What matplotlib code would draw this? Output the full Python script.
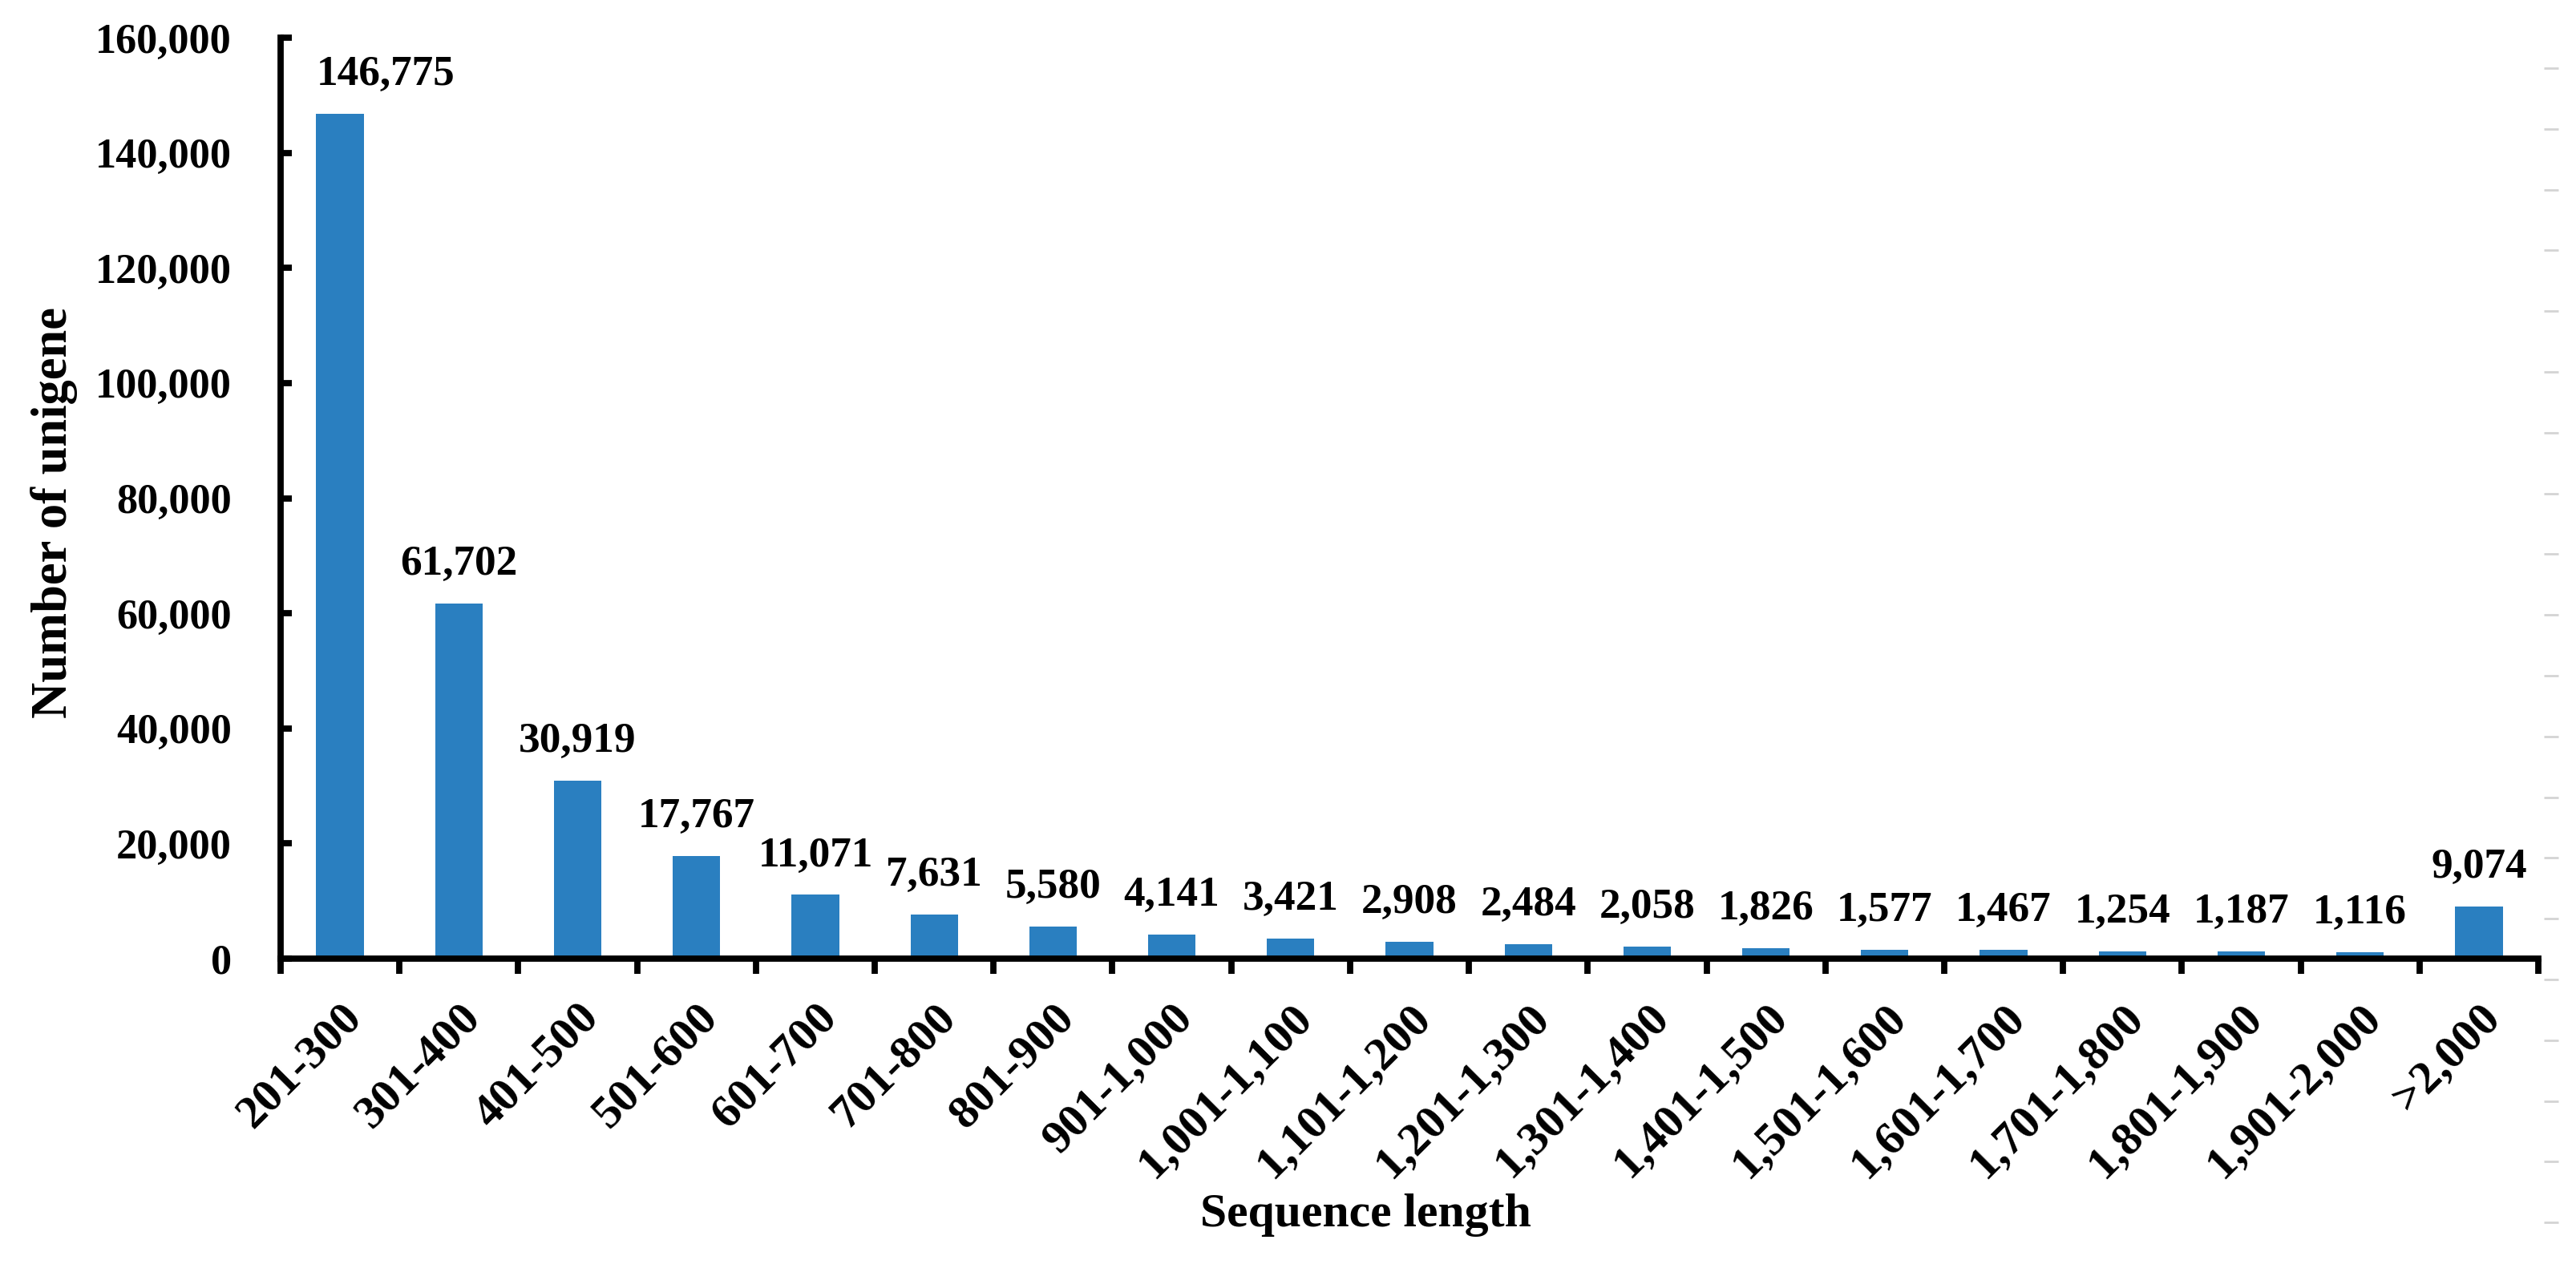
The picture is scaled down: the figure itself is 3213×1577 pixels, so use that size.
import matplotlib
matplotlib.use("Agg")
import matplotlib.pyplot as plt
import numpy as np
from matplotlib.ticker import FuncFormatter, FixedLocator

# data
categories = ["201-300", "301-400", "401-500", "501-600", "601-700", "701-800",
              "801-900", "901-1,000", "1,001-1,100", "1,101-1,200", "1,201-1,300",
              "1,301-1,400", "1,401-1,500", "1,501-1,600", "1,601-1,700",
              "1,701-1,800", "1,801-1,900", "1,901-2,000", ">2,000"]
counts = [146775, 61702, 30919, 17767, 11071, 7631, 5580, 4141, 3421, 2908,
          2484, 2058, 1826, 1577, 1467, 1254, 1187, 1116, 9074]
y_ticks = [0, 20000, 40000, 60000, 80000, 100000, 120000, 140000, 160000]

plt.rcParams['font.family'] = ['Liberation Serif', 'DejaVu Serif']
plt.rcParams['font.weight'] = 'bold'

W, H, dpi = 3213, 1577, 200
fig = plt.figure(figsize=(W / dpi, H / dpi), dpi=dpi)
ax = fig.add_axes([350 / W, 1 - 1196 / H, (3166 - 350) / W, (1196 - 47) / H])

x = np.arange(len(categories))
bw = 0.4
ax.bar(x, counts, width=bw, color='#2a7fc0')

for i, (xi, v) in enumerate(zip(x, counts)):
    # the first label is pushed right so it clears the y axis
    if i == 0:
        ax.annotate(f"{v:,}", (xi - bw / 2, v), xytext=(0, 9), textcoords='offset points',
                    ha='left', va='bottom', fontsize=19.2, fontweight='bold')
    else:
        ax.annotate(f"{v:,}", (xi, v), xytext=(0, 9), textcoords='offset points',
                    ha='center', va='bottom', fontsize=19.2, fontweight='bold')

ax.set_xlim(-0.5, len(categories) - 0.5)
ax.set_ylim(0, 160000)
ax.set_yticks(y_ticks)
ax.yaxis.set_major_formatter(FuncFormatter(lambda v, p: f"{int(v):,}"))

ax.set_xticks(x)
ax.set_xticklabels(categories, rotation=45, ha='right', rotation_mode='anchor')
ax.xaxis.set_minor_locator(FixedLocator(np.arange(-0.5, len(categories), 1.0)))
ax.tick_params(axis='x', which='major', length=0, pad=17, labelsize=21)
ax.tick_params(axis='x', which='minor', direction='out', length=7, width=2.8)
ax.tick_params(axis='y', direction='in', length=5, width=2.8, pad=22, labelsize=18.8)

for s in ['top', 'right']:
    ax.spines[s].set_visible(False)
for s in ['left', 'bottom']:
    ax.spines[s].set_linewidth(2.8)

ax.set_xlabel("Sequence length", fontsize=21.5, fontweight='bold')
ax.set_ylabel("Number of unigene", fontsize=22.5, fontweight='bold')
ax.yaxis.set_label_coords(-0.09, 0.484)
ax.xaxis.set_label_coords(0.4805, -0.255)

# faint dashes at the right edge of the original picture
edge = fig.add_axes([3191 / W, 0, 1 / W, 1])
edge.set_ylim(H, 0)
edge.set_yticks(np.arange(85, H, 75.8))
edge.tick_params(axis='y', direction='out', length=6.5, width=1, color='#d4d4d4',
                 labelleft=False)
edge.set_xticks([])
for s in edge.spines.values():
    s.set_visible(False)
edge.patch.set_alpha(0)

fig.savefig("out.png", dpi=dpi)
